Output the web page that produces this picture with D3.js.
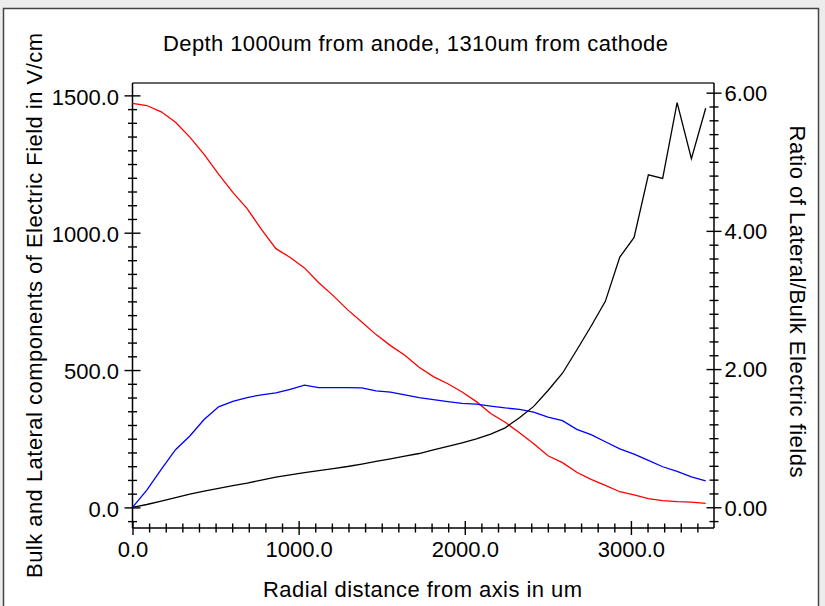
<!DOCTYPE html>
<html>
<head>
<meta charset="utf-8">
<script src="https://cdn.jsdelivr.net/npm/d3@7"></script>
<style>
  body { margin: 0; background: #ececec; }
  text { font-family: "Liberation Sans", Arial, sans-serif; fill: #000; }
</style>
</head>
<body>
<div id="chart"></div>
<script>
// Field components vs radial distance (left axis) and their ratio (right axis)

var radius = [0, 86, 173, 259, 345, 431, 518, 604, 690, 776, 863, 949, 1035, 1121, 1208,
  1294, 1380, 1466, 1553, 1639, 1725, 1811, 1898, 1984, 2070, 2156, 2243, 2329, 2415,
  2501, 2588, 2674, 2760, 2846, 2933, 3019, 3105, 3191, 3278, 3364, 3450];

var bulkField = [1471, 1463, 1440, 1402, 1348, 1285, 1213, 1147, 1088, 1012, 942, 910, 872,
  818, 771, 720, 675, 629, 589, 554, 510, 476, 450, 420, 385, 342, 310, 272, 232, 188, 163,
  128, 102, 80, 57, 46, 32, 25, 21, 19, 15];

var lateralField = [0, 63, 138, 210, 260, 320, 366, 386, 400, 410, 417, 430, 445, 436, 436,
  436, 435, 424, 420, 410, 400, 392, 385, 379, 376, 369, 362, 357, 347, 329, 316, 284, 265,
  239, 213, 194, 171, 148, 131, 111, 97];

var fieldRatio = [0, 0.04, 0.09, 0.14, 0.19, 0.235, 0.275, 0.313, 0.35, 0.393, 0.435, 0.468,
  0.50, 0.53, 0.56, 0.59, 0.625, 0.663, 0.70, 0.74, 0.778, 0.83, 0.88, 0.933, 0.99, 1.06,
  1.15, 1.295, 1.46, 1.69, 1.94, 2.276, 2.62, 2.98, 3.62, 3.905, 4.81, 4.76, 5.855, 5.045, 5.774];

var xTicks = [0, 1000, 2000, 3000];
var yTicks = [0, 500, 1000, 1500];
var ratioTicks = [0, 2, 4, 6];

var titleText = "Depth 1000um from anode, 1310um from cathode";
var xLabel = "Radial distance from axis in um";
var yLabel = "Bulk and Lateral components of Electric Field in V/cm";
var ratioLabel = "Ratio of Lateral/Bulk Electric fields";

(function() {
  var W = 825, H = 606;
  var left = 132.5, right = 714, top = 83, bottom = 528;

  var svg = d3.select("#chart").append("svg")
    .attr("width", W).attr("height", H)
    .style("display", "block");

  // window panel
  svg.append("rect")
    .attr("x", 3.5).attr("y", 8.5)
    .attr("width", 815).attr("height", 620)
    .attr("fill", "#fff")
    .attr("stroke", "#444")
    .attr("stroke-width", 1.5);

  var x = d3.scaleLinear().domain([0, 3500]).range([left, right]);
  var y = d3.scaleLinear().domain([-75, 1545]).range([bottom, top]);
  var yRatio = d3.scaleLinear().domain([-0.3, 6.14]).range([bottom, top]);

  function range(a, b, step) {
    var out = [];
    for (var v = a; v <= b + 1e-9; v += step) out.push(+v.toFixed(3));
    return out;
  }
  var xMinor = range(100, 3400, 100).filter(function(v) { return v % 1000 !== 0; });
  var yMinor = range(-50, 1450, 50).filter(function(v) { return v % 500 !== 0; });
  var rMinor = range(-0.2, 5.8, 0.2).filter(function(v) { return Math.abs(v / 2 - Math.round(v / 2)) > 1e-6; });

  // top frame line
  svg.append("line")
    .attr("x1", left).attr("x2", right)
    .attr("y1", top).attr("y2", top)
    .attr("stroke", "#333").attr("stroke-width", 1.5);

  function styleAxis(g, len, horiz) {
    g.select(".domain").remove();
    g.selectAll(".tick line")
      .attr(horiz ? "y1" : "x1", -len)
      .attr(horiz ? "y2" : "x2", len)
      .attr("stroke", "#000").attr("stroke-width", 1.4);
  }

  // x axis
  var gx = svg.append("g").attr("transform", "translate(0," + bottom + ")");
  gx.call(d3.axisBottom(x).tickValues(xMinor).tickFormat("").tickSize(0));
  styleAxis(gx, 4.5, true);
  var gx2 = svg.append("g").attr("transform", "translate(0," + bottom + ")");
  gx2.call(d3.axisBottom(x).tickValues(xTicks).tickFormat(d3.format(".1f")).tickSize(0));
  styleAxis(gx2, 7, true);
  gx2.selectAll("text").attr("y", 29).attr("dy", 0)
    .style("font-size", "22px").style("font-family", "Liberation Sans, Arial, sans-serif");

  // left axis
  var gy = svg.append("g").attr("transform", "translate(" + left + ",0)");
  gy.call(d3.axisLeft(y).tickValues(yMinor).tickFormat("").tickSize(0));
  styleAxis(gy, 4.5, false);
  var gy2 = svg.append("g").attr("transform", "translate(" + left + ",0)");
  gy2.call(d3.axisLeft(y).tickValues(yTicks).tickFormat(d3.format(".1f")).tickSize(0));
  styleAxis(gy2, 8, false);
  gy2.selectAll("text").attr("x", -13.5).attr("dy", "0.4em")
    .style("font-size", "22px").style("font-family", "Liberation Sans, Arial, sans-serif");

  // right axis
  var gr = svg.append("g").attr("transform", "translate(" + right + ",0)");
  gr.call(d3.axisRight(yRatio).tickValues(rMinor).tickFormat("").tickSize(0));
  styleAxis(gr, 4.5, false);
  var gr2 = svg.append("g").attr("transform", "translate(" + right + ",0)");
  gr2.call(d3.axisRight(yRatio).tickValues(ratioTicks).tickFormat(d3.format(".2f")).tickSize(0));
  styleAxis(gr2, 7.5, false);
  gr2.selectAll("text").attr("x", 10.5).attr("dy", "0.36em")
    .style("font-size", "22px").style("font-family", "Liberation Sans, Arial, sans-serif");

  // axis lines
  svg.append("line").attr("x1", left).attr("x2", left).attr("y1", top).attr("y2", bottom)
    .attr("stroke", "#000").attr("stroke-width", 1.5);
  svg.append("line").attr("x1", right).attr("x2", right).attr("y1", top).attr("y2", bottom)
    .attr("stroke", "#000").attr("stroke-width", 1.5);
  svg.append("line").attr("x1", left).attr("x2", right).attr("y1", bottom).attr("y2", bottom)
    .attr("stroke", "#000").attr("stroke-width", 1.5);

  // series
  var lineLeft = d3.line()
    .x(function(d) { return x(d[0]); })
    .y(function(d) { return y(d[1]); });
  var lineRight = d3.line()
    .x(function(d) { return x(d[0]); })
    .y(function(d) { return yRatio(d[1]); });

  svg.append("path")
    .datum(d3.zip(radius, bulkField))
    .attr("d", lineLeft)
    .attr("fill", "none").attr("stroke", "#ff0000").attr("stroke-width", 1.3);

  svg.append("path")
    .datum(d3.zip(radius, lateralField))
    .attr("d", lineLeft)
    .attr("fill", "none").attr("stroke", "#0000ff").attr("stroke-width", 1.3);

  svg.append("path")
    .datum(d3.zip(radius, fieldRatio))
    .attr("d", lineRight)
    .attr("fill", "none").attr("stroke", "#000").attr("stroke-width", 1.3);

  // titles
  svg.append("text")
    .attr("x", 415.5).attr("y", 51)
    .attr("text-anchor", "middle")
    .attr("textLength", 505).attr("lengthAdjust", "spacing")
    .style("font-size", "22px")
    .text(titleText);

  svg.append("text")
    .attr("x", 422.5).attr("y", 597)
    .attr("text-anchor", "middle")
    .attr("textLength", 319).attr("lengthAdjust", "spacing")
    .style("font-size", "22px")
    .text(xLabel);

  svg.append("text")
    .attr("transform", "translate(41.5,305.5) rotate(-90)")
    .attr("text-anchor", "middle")
    .attr("textLength", 545).attr("lengthAdjust", "spacing")
    .style("font-size", "22px")
    .text(yLabel);

  svg.append("text")
    .attr("transform", "translate(790,301.5) rotate(90)")
    .attr("text-anchor", "middle")
    .attr("textLength", 352).attr("lengthAdjust", "spacing")
    .style("font-size", "22px")
    .text(ratioLabel);
})();
</script>
</body>
</html>
